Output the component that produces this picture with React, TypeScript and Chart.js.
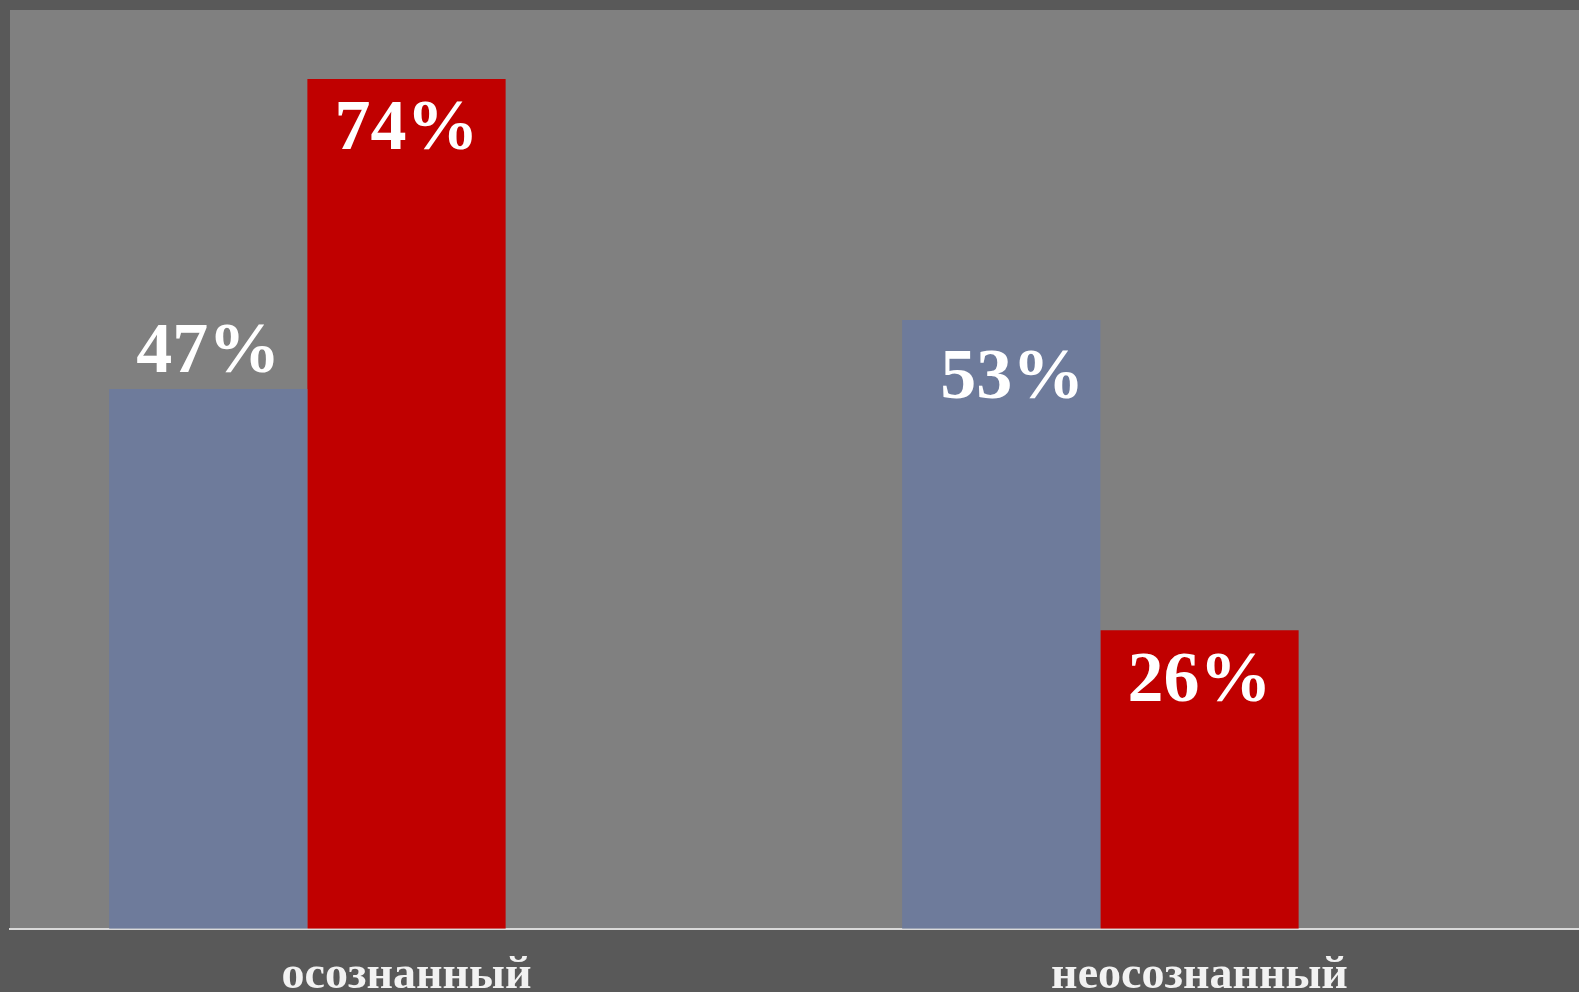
import React, { useEffect, useRef } from "react";
import { Chart, registerables } from "chart.js";

Chart.register(...registerables);

const categories = ["осознанный", "неосознанный"];
const seriesBlue = [47, 53];
const seriesRed = [74, 26];
const seriesSpacer = [null, null];
const yMax = 80;

// label shift from bar top (positive = inside bar, negative = above bar)
const labelShiftBlue = [-36, 59];
const labelShiftRed = [51, 52];
const labelShiftXBlue = [0, 11];
const labelShiftXRed = [0, 0];

const COLOR_FRAME = "#595959";
const COLOR_PLOT = "#808080";
const COLOR_BLUE = "#6e7b9b";
const COLOR_RED = "#c00000";

const CANVAS_W = 1606;
const CANVAS_H = 1016;

const backgroundPlugin = {
  id: "bgPlugin",
  beforeDraw(chart: any) {
    const { ctx, chartArea } = chart;
    ctx.save();
    ctx.fillStyle = COLOR_FRAME;
    ctx.fillRect(0, 0, chart.width, chart.height);
    ctx.fillStyle = COLOR_PLOT;
    ctx.fillRect(chartArea.left, chartArea.top, chartArea.right - chartArea.left, chartArea.bottom - chartArea.top);
    ctx.restore();
  },
};

const valueLabelPlugin = {
  id: "valueLabels",
  afterDatasetsDraw(chart: any) {
    const { ctx } = chart;
    const shifts = [labelShiftBlue, labelShiftRed];
    const shiftsX = [labelShiftXBlue, labelShiftXRed];
    ctx.save();
    ctx.font = 'bold 72px "Liberation Serif", "Times New Roman", serif';
    ctx.fillStyle = "#ffffff";
    ctx.textAlign = "center";
    ctx.textBaseline = "middle";
    [0, 1].forEach((di) => {
      const meta = chart.getDatasetMeta(di);
      const data = chart.data.datasets[di].data;
      meta.data.forEach((el: any, i: number) => {
        const v = data[i];
        if (v == null) return;
        const { x, y } = el.getProps(["x", "y"], true);
        ctx.fillText(`${v}%`, x + shiftsX[di][i], y + shifts[di][i]);
      });
    });
    ctx.restore();
  },
};

export default function App() {
  const ref = useRef<HTMLCanvasElement | null>(null);

  useEffect(() => {
    if (!ref.current) return;
    const chart = new Chart(ref.current, {
      type: "bar",
      data: {
        labels: categories,
        datasets: [
          { label: "A", data: seriesBlue, backgroundColor: COLOR_BLUE, borderWidth: 0 },
          { label: "B", data: seriesRed, backgroundColor: COLOR_RED, borderWidth: 0 },
          { label: "", data: seriesSpacer, backgroundColor: "rgba(0,0,0,0)", borderWidth: 0 },
        ],
      },
      options: {
        responsive: false,
        animation: false,
        devicePixelRatio: 1,
        layout: { padding: { left: 10, top: 10, right: 10, bottom: 0 } },
        datasets: { bar: { categoryPercentage: 0.75, barPercentage: 1.0 } },
        plugins: {
          legend: { display: false },
          tooltip: { enabled: false },
          title: { display: false },
        },
        scales: {
          x: {
            grid: { display: false },
            border: { display: true, color: "#d9d9d9", width: 2 },
            ticks: {
              color: "#f2f2f2",
              padding: 12,
              font: { family: '"Liberation Serif", "Times New Roman", serif', size: 46, weight: "bold" },
            },
          },
          y: {
            display: false,
            min: 0,
            max: yMax,
          },
        },
      },
      plugins: [backgroundPlugin, valueLabelPlugin],
    });
    return () => chart.destroy();
  }, []);

  return (
    <div
      style={{
        position: "fixed",
        left: 0,
        top: 0,
        width: 1579,
        height: 992,
        overflow: "hidden",
        background: COLOR_FRAME,
      }}
    >
      <canvas
        ref={ref}
        width={CANVAS_W}
        height={CANVAS_H}
        style={{ display: "block", width: CANVAS_W, height: CANVAS_H }}
      />
    </div>
  );
}
